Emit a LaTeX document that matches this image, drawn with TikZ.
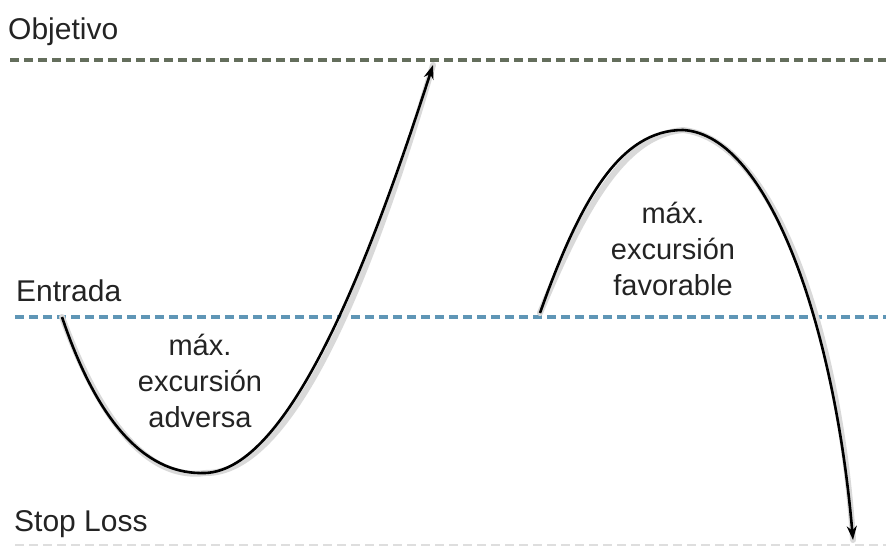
\documentclass[tikz,border=0pt]{standalone}
\usepackage{fontspec}
\setmainfont{Liberation Sans}
\usetikzlibrary{arrows.meta, positioning}
\definecolor{targetgreen}{RGB}{100,110,92}
\definecolor{entryblue}{RGB}{95,150,182}
\definecolor{stopgray}{RGB}{222,222,222}
\definecolor{textgray}{RGB}{35,35,35}

\begin{document}
\begin{tikzpicture}[
    x=1pt, y=-1pt,
    every node/.style={font=\fontsize{29}{36}\selectfont, text=textgray, inner sep=0pt},
    level/.style={anchor=base west, font=\fontsize{30}{36}\selectfont},
    excursion/.style={align=center},
    levelline/.style={dash pattern=on 9pt off 5pt, line width=3.2pt},
    path/.style={-{Stealth[length=14pt, width=10pt]}, line width=2.6pt, black},
    pathshadow/.style={line width=6pt, black!15, line cap=round}
]
\useasboundingbox (0,0) rectangle (886,547);

% Levels
\node (objetivo) [level] at (8,39) {Objetivo};
\node (entrada) [level] at (16,301) {Entrada};
\node (stoploss) [level] at (14,531) {Stop Loss};

\coordinate (obj0) at (10,60);   \coordinate (obj1) at (886,60);
\coordinate (ent0) at (15,317);  \coordinate (ent1) at (886,317);
\coordinate (sl0) at (15,545);   \coordinate (sl1) at (886,545);

\draw [levelline, targetgreen] (obj0) -- (obj1);
\draw [levelline, entryblue] (ent0) -- (ent1);
\draw [levelline, stopgray, line width=1.8pt] (sl0) -- (sl1);

% Curves
\coordinate (adv0) at (62,317);
\coordinate (advlow) at (205,473);
\coordinate (advtip) at (433,65);
\coordinate (fav0) at (540,313);
\coordinate (favtop) at (683,130);
\coordinate (favtip) at (853,540);

\begin{scope}[shift={(5,5)}]
\draw [pathshadow] (adv0) .. controls (100,430) and (150,475) .. (advlow)
    .. controls (290,470) and (370,260) .. (advtip);
\draw [pathshadow] (fav0) .. controls (580,200) and (620,130) .. (favtop)
    .. controls (770,135) and (835,330) .. (favtip);
\end{scope}

\draw [path] (adv0) .. controls (100,430) and (150,475) .. (advlow)
    .. controls (290,470) and (370,260) .. (advtip);
\draw [path] (fav0) .. controls (580,200) and (620,130) .. (favtop)
    .. controls (770,135) and (835,330) .. (favtip);

% Labels
\node (adversa) [excursion] at (200,381) {máx.\\excursión\\adversa};
\node (favorable) [excursion] at (673,249) {máx.\\excursión\\favorable};

\end{tikzpicture}
\end{document}
